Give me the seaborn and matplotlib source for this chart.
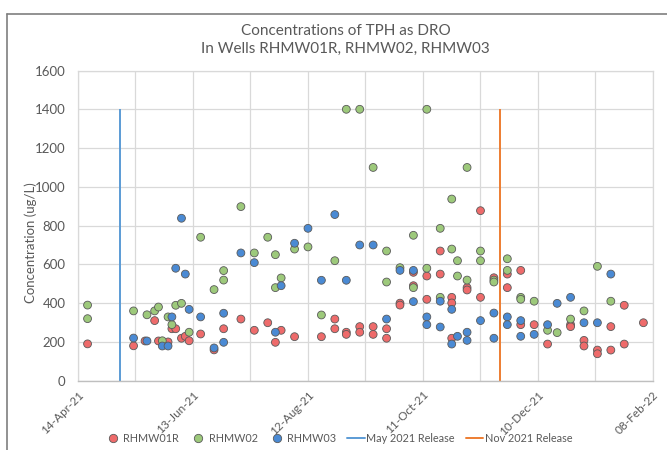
import matplotlib
matplotlib.use("Agg")
import matplotlib.pyplot as plt
from matplotlib.lines import Line2D
import pandas as pd
import seaborn as sns

# ---- sample results (ug/L) per well ----
rhmw01r_dates = [
    "2021-04-19", "2021-05-13", "2021-05-19", "2021-05-24", "2021-05-26", "2021-05-31",
    "2021-06-02", "2021-06-04", "2021-06-07", "2021-06-09", "2021-06-11", "2021-06-17",
    "2021-06-24", "2021-06-29", "2021-07-08", "2021-07-15", "2021-07-22", "2021-07-26",
    "2021-07-29", "2021-08-05", "2021-08-19", "2021-08-26", "2021-08-26", "2021-09-01",
    "2021-09-01", "2021-09-08", "2021-09-08", "2021-09-15", "2021-09-15", "2021-09-22",
    "2021-09-22", "2021-09-29", "2021-09-29", "2021-10-06", "2021-10-06", "2021-10-13",
    "2021-10-13", "2021-10-20", "2021-10-20", "2021-10-26", "2021-10-26", "2021-10-26",
    "2021-11-03", "2021-11-03", "2021-11-10", "2021-11-10", "2021-11-17", "2021-11-24",
    "2021-11-24", "2021-12-01", "2021-12-01", "2021-12-08", "2021-12-15", "2021-12-27",
    "2021-12-27", "2022-01-03", "2022-01-03", "2022-01-10", "2022-01-10", "2022-01-17",
    "2022-01-17", "2022-01-24", "2022-01-24", "2022-02-03",
]
rhmw01r_values = [
    190, 180, 205, 310, 205, 200,
    268, 268, 219, 229, 206, 241,
    159, 268, 318, 260, 299, 198,
    260, 227, 227, 318, 268, 250,
    239, 279, 250, 279, 239, 268,
    219, 400, 390, 559, 490, 540,
    420, 669, 550, 430, 401, 219,
    480, 468, 877, 430, 531, 550,
    480, 569, 289, 289, 189, 289,
    279, 208, 179, 158, 139, 279,
    158, 389, 189, 299,
]

rhmw02_dates = [
    "2021-04-19", "2021-04-19", "2021-05-13", "2021-05-20", "2021-05-24", "2021-05-26",
    "2021-05-28", "2021-05-31", "2021-06-02", "2021-06-04", "2021-06-07", "2021-06-11",
    "2021-06-17", "2021-06-24", "2021-06-29", "2021-06-29", "2021-07-08", "2021-07-15",
    "2021-07-22", "2021-07-26", "2021-07-26", "2021-07-29", "2021-08-05", "2021-08-12",
    "2021-08-19", "2021-08-26", "2021-09-01", "2021-09-08", "2021-09-15", "2021-09-22",
    "2021-09-22", "2021-09-29", "2021-10-06", "2021-10-06", "2021-10-13", "2021-10-13",
    "2021-10-20", "2021-10-20", "2021-10-26", "2021-10-26", "2021-10-29", "2021-10-29",
    "2021-11-03", "2021-11-03", "2021-11-10", "2021-11-10", "2021-11-17", "2021-11-17",
    "2021-11-24", "2021-11-24", "2021-12-01", "2021-12-01", "2021-12-08", "2021-12-15",
    "2021-12-20", "2021-12-27", "2022-01-03", "2022-01-10", "2022-01-17",
]
rhmw02_values = [
    390, 320, 360, 340, 360, 380,
    206, 329, 289, 389, 399, 250,
    740, 470, 568, 519, 898, 659,
    740, 650, 480, 530, 679, 690,
    339, 619, 1400, 1400, 1100, 669,
    509, 583, 750, 480, 1400, 580,
    786, 430, 937, 679, 619, 540,
    1100, 519, 669, 619, 519, 509,
    629, 569, 430, 420, 410, 260,
    248, 318, 360, 590, 410,
]

rhmw03_dates = [
    "2021-05-13", "2021-05-20", "2021-05-28", "2021-05-31", "2021-06-02", "2021-06-04",
    "2021-06-07", "2021-06-09", "2021-06-11", "2021-06-17", "2021-06-24", "2021-06-29",
    "2021-06-29", "2021-07-08", "2021-07-15", "2021-07-26", "2021-07-29", "2021-08-05",
    "2021-08-12", "2021-08-19", "2021-08-26", "2021-09-01", "2021-09-08", "2021-09-15",
    "2021-09-22", "2021-09-29", "2021-10-06", "2021-10-06", "2021-10-13", "2021-10-13",
    "2021-10-20", "2021-10-20", "2021-10-26", "2021-10-26", "2021-10-29", "2021-11-03",
    "2021-11-03", "2021-11-10", "2021-11-17", "2021-11-17", "2021-11-24", "2021-11-24",
    "2021-12-01", "2021-12-01", "2021-12-08", "2021-12-15", "2021-12-20", "2021-12-27",
    "2022-01-03", "2022-01-10", "2022-01-17",
]
rhmw03_values = [
    220, 205, 179, 179, 329, 580,
    838, 550, 368, 329, 169, 348,
    198, 659, 609, 250, 490, 709,
    786, 518, 857, 518, 700, 700,
    318, 569, 569, 408, 329, 289,
    410, 277, 368, 189, 229, 250,
    208, 310, 349, 219, 329, 289,
    310, 229, 239, 289, 399, 430,
    299, 299, 550,
]

well_names = ["RHMW01R", "RHMW02", "RHMW03"]
well_colors = ["#EE6B6B", "#9DC97B", "#4A8AD4"]

release_labels = ["May 2021 Release", "Nov 2021 Release"]
release_dates = ["2021-05-06", "2021-11-20"]
release_colors = ["#5B9BD5", "#ED7D31"]
release_top = 1400

axis_start = "2021-04-14"
axis_end = "2022-02-08"

sns.set_theme(style="white")
plt.rcParams["font.family"] = ["Lato", "DejaVu Sans"]
text_color = "#595959"
grid_color = "#D9D9D9"

frames = []
for name, dates, vals in zip(well_names,
                             [rhmw01r_dates, rhmw02_dates, rhmw03_dates],
                             [rhmw01r_values, rhmw02_values, rhmw03_values]):
    frames.append(pd.DataFrame({"Date": pd.to_datetime(dates),
                                "Concentration": vals,
                                "Well": name}))
df = pd.concat(frames, ignore_index=True)

fig = plt.figure(figsize=(6.67, 4.5), dpi=100)
ax = fig.add_axes([0.1169, 0.1540, 0.8621, 0.6893])

sns.scatterplot(data=df, x="Date", y="Concentration", hue="Well",
                hue_order=well_names, palette=well_colors,
                s=32, edgecolor="#5a5a5a", linewidth=0.6,
                legend=False, ax=ax, zorder=3)

for d, c in zip(release_dates, release_colors):
    ax.vlines(pd.Timestamp(d), 0, release_top, colors=c, linewidth=1.4, zorder=2)

# axes ranges and ticks
x0, x1 = pd.Timestamp(axis_start), pd.Timestamp(axis_end)
ax.set_xlim(x0, x1)
ax.set_ylim(0, 1600)
ax.set_yticks(range(0, 1601, 200))

grid_days = pd.date_range(x0, x1, freq="30D")
ax.set_xticks(grid_days)
ax.set_xticklabels([d.strftime("%d-%b-%y") if i % 2 == 0 else ""
                    for i, d in enumerate(grid_days)])
for lbl in ax.get_xticklabels():
    lbl.set_rotation(45)
    lbl.set_ha("right")
    lbl.set_rotation_mode("anchor")

ax.tick_params(axis="x", length=0, pad=6, labelsize=8.5, labelcolor=text_color)
ax.tick_params(axis="y", length=0, pad=9, labelsize=9.5, labelcolor=text_color)
ax.grid(True, color=grid_color, linewidth=0.9, zorder=0)
ax.set_axisbelow(True)
for side in ["top", "right", "left"]:
    ax.spines[side].set_color(grid_color)
    ax.spines[side].set_linewidth(0.9)
ax.spines["bottom"].set_color("#BFBFBF")
ax.spines["bottom"].set_linewidth(1.0)

ax.set_xlabel("")
ax.set_ylabel("Concentration (ug/L)", color=text_color, fontsize=9.5)
ax.yaxis.set_label_coords(-0.072, 0.445)

# titles
fig.text(0.518, 0.932, "Concentrations of TPH as DRO", ha="center", va="center",
         fontsize=11, color=text_color)
fig.text(0.518, 0.891, "In Wells RHMW01R, RHMW02, RHMW03", ha="center", va="center",
         fontsize=11, color=text_color)

# chart area frame (left and top edges)
fig.add_artist(Line2D([0.0105, 0.0105], [0.0, 0.969], transform=fig.transFigure,
                      color="#7F7F7F", linewidth=1.2))
fig.add_artist(Line2D([0.0105, 1.0], [0.969, 0.969], transform=fig.transFigure,
                      color="#7F7F7F", linewidth=1.2))

# legend
handles = [Line2D([], [], marker="o", linestyle="none", markersize=6,
                  markerfacecolor=c, markeredgecolor="#5a5a5a", markeredgewidth=0.6)
           for c in well_colors]
handles += [Line2D([], [], color=c, linewidth=1.4) for c in release_colors]
fig.legend(handles, well_names + release_labels, loc="center",
           bbox_to_anchor=(0.507, 0.025), ncol=5, frameon=False,
           fontsize=7.8, labelcolor=text_color, handlelength=1.6,
           handletextpad=0.15, columnspacing=1.0)

fig.savefig("out.png", dpi=100)
